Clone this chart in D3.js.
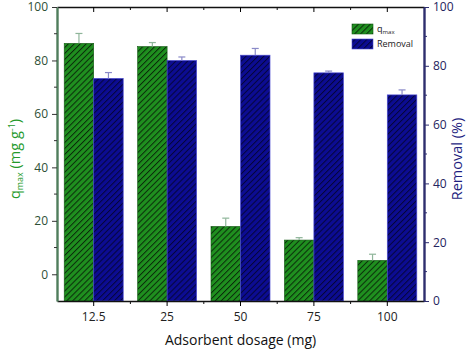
<!DOCTYPE html>
<html>
<head>
<meta charset="utf-8">
<script src="https://cdn.jsdelivr.net/npm/d3@7/dist/d3.min.js"></script>
<style>
  body { margin: 0; background: #fff; }
  text { font-family: "Open Sans", sans-serif; }
</style>
</head>
<body>
<div id="chart"></div>
<script>
// data
const dosages = ["12.5", "25", "50", "75", "100"];
const qmax = [86.4, 85.2, 17.9, 12.8, 5.2];
const qmaxErr = [3.7, 1.5, 3.1, 0.9, 2.3];
const removal = [75.7, 81.8, 83.6, 77.6, 70.1];
const removalErr = [2.0, 1.2, 2.3, 0.6, 1.7];
const leftTicks = [0, 20, 40, 60, 80, 100];
const rightTicks = [0, 20, 40, 60, 80, 100];

const W = 474, H = 351;
const margin = {top: 7, right: 50, bottom: 50, left: 57};
const width = W - margin.left - margin.right;
const height = H - margin.top - margin.bottom;

const svg = d3.select("#chart").append("svg")
    .attr("width", W)
    .attr("height", H);

// hatch patterns
const defs = svg.append("defs");
function hatch(id, bg, fg) {
    const p = defs.append("pattern")
        .attr("id", id)
        .attr("patternUnits", "userSpaceOnUse")
        .attr("width", 4.2)
        .attr("height", 4.2)
        .attr("patternTransform", "rotate(45)");
    p.append("rect").attr("width", 4.2).attr("height", 4.2).attr("fill", bg);
    p.append("line").attr("x1", 0).attr("y1", 0).attr("x2", 0).attr("y2", 4.2)
        .attr("stroke", fg).attr("stroke-width", 2);
}
hatch("hGreen", "#1f8f1f", "#0a2a0a");
hatch("hBlue", "#0c0c92", "#05053a");

const g = svg.append("g")
    .attr("transform", "translate(" + margin.left + "," + margin.top + ")");

// scales
const x = d3.scaleBand().domain(dosages).range([0, width]).paddingInner(0).paddingOuter(0);
const yL = d3.scaleLinear().domain([-10, 100]).range([height, 0]);
const yR = d3.scaleLinear().domain([0, 100]).range([height, 0]);
const pad = 7.2;
const bw = (x.bandwidth() - 2 * pad) / 2;

// bars
g.selectAll(".bq")
    .data(dosages)
    .enter()
    .append("rect")
    .attr("x", d => x(d) + pad)
    .attr("y", (d, i) => yL(qmax[i]))
    .attr("width", bw)
    .attr("height", (d, i) => height - yL(qmax[i]))
    .attr("fill", "url(#hGreen)")
    .attr("stroke", "#145a14")
    .attr("stroke-width", 0.6);

g.selectAll(".br")
    .data(dosages)
    .enter()
    .append("rect")
    .attr("x", d => x(d) + pad + bw)
    .attr("y", (d, i) => yR(removal[i]))
    .attr("width", bw)
    .attr("height", (d, i) => height - yR(removal[i]))
    .attr("fill", "url(#hBlue)")
    .attr("stroke", "#4a4ad0")
    .attr("stroke-width", 0.7);

// error bars (upper only)
function errBars(vals, errs, scale, off, color) {
    const eg = g.append("g").attr("stroke", color).attr("stroke-width", 1.2);
    dosages.forEach((d, i) => {
        const cx = x(d) + pad + off + bw / 2;
        eg.append("line").attr("x1", cx).attr("x2", cx)
            .attr("y1", scale(vals[i])).attr("y2", scale(vals[i] + errs[i]));
        eg.append("line").attr("x1", cx - 3.5).attr("x2", cx + 3.5)
            .attr("y1", scale(vals[i] + errs[i])).attr("y2", scale(vals[i] + errs[i]));
    });
}
errBars(qmax, qmaxErr, yL, 0, "#8fb59a");
errBars(removal, removalErr, yR, bw, "#8a8ac8");

// axes
const minorX = dosages.slice(1).map(d => x(d));
const bottomAxis = g.append("g")
    .attr("transform", "translate(0," + height + ")")
    .call(d3.axisBottom(x).tickSize(5).tickPadding(6).tickSizeOuter(0));
bottomAxis.select(".domain").attr("stroke", "#111").attr("stroke-width", 1.3);
bottomAxis.selectAll("text").attr("font-size", 12).attr("fill", "#222");
minorX.forEach(px => bottomAxis.append("line").attr("x1", px).attr("x2", px)
    .attr("y1", 0).attr("y2", 3).attr("stroke", "#111"));

const topAxis = g.append("g")
    .call(d3.axisBottom(x).tickSize(5).tickFormat("").tickSizeOuter(0));
topAxis.select(".domain").attr("stroke", "#111").attr("stroke-width", 1.3);
minorX.forEach(px => topAxis.append("line").attr("x1", px).attr("x2", px)
    .attr("y1", 0).attr("y2", 3).attr("stroke", "#111"));

const leftColor = "#4f7d5c";
const leftAxis = g.append("g")
    .call(d3.axisLeft(yL).tickValues(leftTicks).tickSize(5).tickPadding(4).tickSizeOuter(0));
leftAxis.select(".domain").attr("stroke", leftColor).attr("stroke-width", 2.4);
leftAxis.selectAll(".tick line").attr("stroke", "#333");
leftAxis.selectAll("text").attr("font-size", 12).attr("fill", "#2d4f36");
[10, 30, 50, 70, 90].forEach(v => leftAxis.append("line").attr("x1", 0).attr("x2", -3)
    .attr("y1", yL(v)).attr("y2", yL(v)).attr("stroke", "#333"));

const rightColor = "#2e2e6e";
const rightAxis = g.append("g")
    .attr("transform", "translate(" + width + ",0)")
    .call(d3.axisRight(yR).tickValues(rightTicks).tickSize(5).tickPadding(4).tickSizeOuter(0));
rightAxis.select(".domain").attr("stroke", rightColor).attr("stroke-width", 2.4);
rightAxis.selectAll(".tick line").attr("stroke", rightColor);
rightAxis.selectAll("text").attr("font-size", 12).attr("fill", "#24245e");
[10, 30, 50, 70, 90].forEach(v => rightAxis.append("line").attr("x1", 0).attr("x2", 3)
    .attr("y1", yR(v)).attr("y2", yR(v)).attr("stroke", rightColor));

// axis titles
svg.append("text")
    .attr("x", margin.left + width / 2)
    .attr("y", 345)
    .attr("text-anchor", "middle")
    .attr("font-size", 14)
    .attr("fill", "#111")
    .text("Adsorbent dosage (mg)");

const lt = svg.append("text")
    .attr("transform", "translate(20," + (margin.top + height / 2 + 5) + ") rotate(-90)")
    .attr("text-anchor", "middle")
    .attr("font-size", 14.5)
    .attr("fill", "#23992a");
lt.append("tspan").text("q");
lt.append("tspan").attr("font-size", 9).attr("dy", 3).text("max");
lt.append("tspan").attr("dy", -3).text(" (mg g");
lt.append("tspan").attr("font-size", 9).attr("dy", -5).text("-1");
lt.append("tspan").attr("dy", 5).text(")");

svg.append("text")
    .attr("transform", "translate(462," + (margin.top + height / 2 + 5) + ") rotate(-90)")
    .attr("text-anchor", "middle")
    .attr("font-size", 14.5)
    .attr("fill", "#1e1e80")
    .text("Removal (%)");

// legend
const leg = svg.append("g").attr("transform", "translate(352,24)");
leg.append("rect").attr("width", 21).attr("height", 10).attr("fill", "url(#hGreen)")
    .attr("stroke", "#145a14").attr("stroke-width", 0.6);
leg.append("rect").attr("y", 15).attr("width", 21).attr("height", 10).attr("fill", "url(#hBlue)")
    .attr("stroke", "#4a4ad0").attr("stroke-width", 0.6);
const l1 = leg.append("text").attr("x", 25).attr("y", 8).attr("font-size", 9).attr("fill", "#222");
l1.append("tspan").text("q");
l1.append("tspan").attr("font-size", 6).attr("dy", 2).text("max");
leg.append("text").attr("x", 25).attr("y", 23).attr("font-size", 9).attr("fill", "#222").text("Removal");
</script>
</body>
</html>
